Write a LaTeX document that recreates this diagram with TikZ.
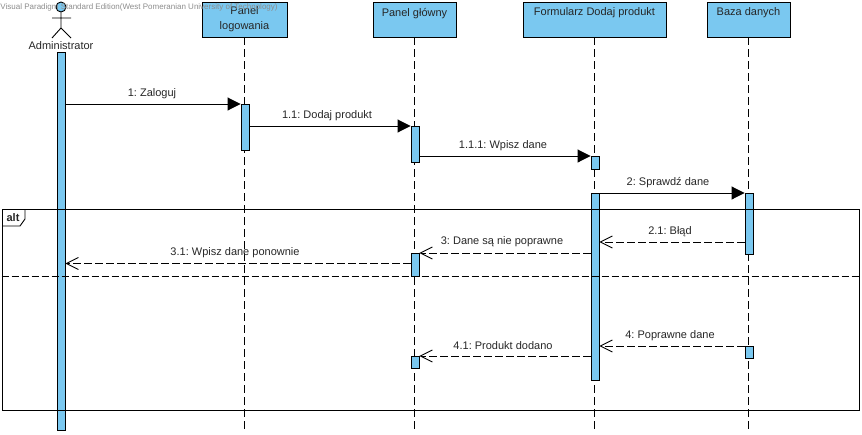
\documentclass[tikz,border=0pt]{standalone}
\usepackage{fontspec}
\setmainfont{Liberation Sans}
\usetikzlibrary{arrows.meta}
\definecolor{vpblue}{HTML}{7AC8F0}
\tikzstyle{lifebox}=[draw, fill=vpblue, minimum height=35pt, inner sep=0pt, align=center, font=\fontsize{11}{15}\selectfont]
\tikzstyle{bar}=[draw, fill=vpblue, minimum width=8pt, inner sep=0pt]
\tikzstyle{lifeline}=[draw, dash pattern=on 8pt off 4pt]
\tikzstyle{msgtext}=[inner sep=0pt, font=\fontsize{11}{13}\selectfont, text=black!85]
\tikzstyle{call}=[draw, -{Triangle[length=13pt,width=13pt]}]
\tikzstyle{reply}=[draw, dash pattern=on 8pt off 3pt, -{Straight Barb[length=12pt,width=12pt]}]

\begin{document}
\frenchspacing
\begin{tikzpicture}[x=1pt, y=-1pt, line width=0.9pt]
	\useasboundingbox (0,0) rectangle (862,434);
	% header boxes
	\foreach \pos/\name/\boxw/\txt in {{(244.5,19.5)/logowanie/85/Panel\\logowania}, {(414.5,19.5)/glowny/83/Panel główny\\~}, {(594.5,19.5)/formularz/143/Formularz Dodaj produkt\\~}, {(748.5,19.5)/baza/83/Baza danych\\~}}
		\node[lifebox, minimum width=\boxw pt, text=black!85] (\name) at \pos {\txt};
	% actor
	\node[draw, circle, fill=vpblue, minimum size=10pt, inner sep=0pt] (head) at (61,7) {};
	\coordinate (hip) at (61,28);
	\coordinate (armL) at (52,18);
	\coordinate (armR) at (71,18);
	\coordinate (footL) at (52,38);
	\coordinate (footR) at (71,38);
	\node[msgtext] (actor) at (61,45.5) {Administrator};
	\draw (head) -- (hip) (armL) -- (armR) (footL) -- (hip) -- (footR);
	% lifelines
	\foreach \name in {logowanie, glowny, formularz, baza} {
		\coordinate (\name end) at (\name |- 0,431);
		\path[lifeline] (\name) -- (\name end);
	}
	% activations
	\foreach \pos/\name/\barh in {{(61,241)/a0/378}, {(245,127)/a1/46}, {(415,144)/a2/36}, {(595,162.5)/a3/13}, {(595,286.5)/a4/187}, {(749,223.5)/a5/61}, {(415,264.5)/a6/23}, {(749,352)/a7/12}, {(415,362)/a8/12}}
		\node[bar, minimum height=\barh pt] (\name) at \pos {};
	% frame
	\node[draw, minimum width=857pt, minimum height=201pt, inner sep=0pt] (frame) at (430.5,309.5) {};
	\coordinate (tabA) at (25,209);
	\coordinate (tabB) at (25,219);
	\coordinate (tabC) at (20,226);
	\coordinate (tabD) at (2,226);
	\draw (tabA) -- (tabB) -- (tabC) -- (tabD);
	\node[msgtext, font=\fontsize{11}{13}\selectfont\bfseries] (alt) at (13,218) {alt};
	\coordinate (sepL) at (frame.west |- 0,276);
	\coordinate (sepR) at (frame.east |- 0,276);
	\draw[dash pattern=on 7pt off 3pt] (sepL) -- (sepR);
	% messages
	\foreach \source/\dest/\yy in {a0.east/a1.west/104, a1.east/a2.west/126, a2.east/a3.west/156, a4.east/a5.west/193}
		\path[call] (\source |- 0,\yy) -- (\dest |- 0,\yy);
	\foreach \source/\dest/\yy in {a5.west/a4.east/242, a4.west/a6.east/253, a6.west/a0.east/263.5, a7.west/a4.east/346, a4.west/a8.east/356}
		\path[reply] (\source |- 0,\yy) -- (\dest |- 0,\yy);
	% message labels
	\foreach \pos/\name/\txt in {{(152,93.5)/m1/1: Zaloguj}, {(327,115.5)/m2/1.1: Dodaj produkt}, {(503,145.5)/m3/1.1.1: Wpisz dane}, {(668,182.5)/m4/2: Sprawdź dane}, {(670,231.5)/m5/2.1: Błąd}, {(502,241.5)/m6/3: Dane są nie poprawne}, {(235,252.5)/m7/3.1: Wpisz dane ponownie}, {(670,335.5)/m8/4: Poprawne dane}, {(503,345.5)/m9/4.1: Produkt dodano}}
		\node[msgtext] (\name) at \pos {\txt};
	% watermark
	\node[anchor=west, inner sep=0pt, text=black!45, font=\fontsize{8}{10}\selectfont] (mark) at (0,7) {Visual Paradigm Standard Edition(West Pomeranian University of Technology)};
\end{tikzpicture}
\end{document}
